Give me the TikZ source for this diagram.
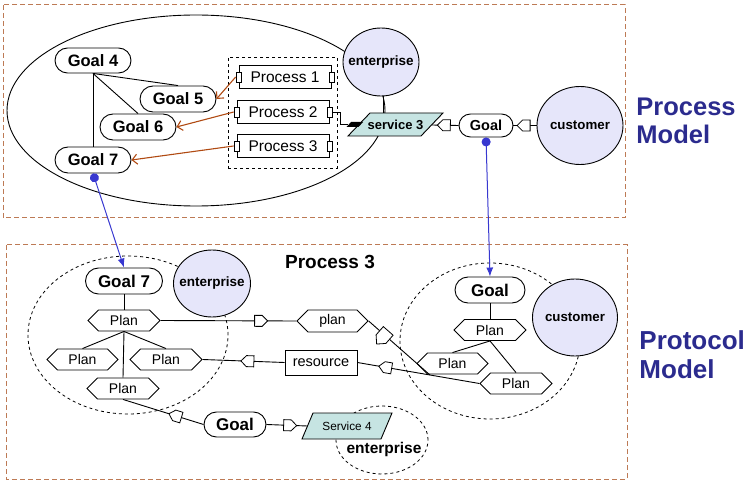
\documentclass[tikz,border=0pt]{standalone}
\usepackage{fontspec}
\setmainfont{Liberation Sans}
\usetikzlibrary{shapes.geometric,shapes.misc,shapes.symbols,arrows.meta}
\definecolor{boxbrown}{HTML}{BD7A55}
\definecolor{arrbrown}{HTML}{B04A12}
\definecolor{lav}{HTML}{E6E6FA}
\definecolor{svcfill}{HTML}{C6E4E2}
\definecolor{ttl}{HTML}{2B2B8E}
\definecolor{bconn}{HTML}{3838D0}
\newcommand\myfs[1]{\fontsize{#1}{#1}\selectfont}
\begin{document}
\begin{tikzpicture}[x=1pt,y=-1pt,line width=0.9pt,
  goalbox/.style={rounded rectangle,draw,fill=white,inner sep=0pt,font=\myfs{16.5}\bfseries},
  procbox/.style={rectangle,draw,fill=white,minimum width=92pt,minimum height=23pt,inner sep=0pt,font=\myfs{15.5}},
  portbox/.style={rectangle,draw,fill=white,minimum width=5pt,minimum height=10pt,inner sep=0pt,line width=0.8pt},
  planhex/.style={signal,signal to=west and east,draw,fill=white,minimum width=72pt,minimum height=21pt,inner sep=0pt,font=\myfs{14}},
  actor/.style={ellipse,draw,fill=lav,inner sep=0pt},
  dashring/.style={ellipse,draw,dash pattern=on 3pt off 3pt,line width=0.8pt,inner sep=0pt},
  mk/.style={signal,draw,fill=white,minimum width=13pt,minimum height=11pt,inner sep=0pt,sloped,line width=0.8pt},
  svcshape/.style={draw,fill=svcfill},
  region/.style={draw=boxbrown,dash pattern=on 5pt off 3pt,line width=1pt},
  brownarr/.style={draw=arrbrown,line width=1.1pt,-{Straight Barb[length=5pt,width=10pt]}},
  blueconn/.style={draw=bconn,line width=1pt,{Circle[length=9pt]}-{Latex[length=9pt,width=7pt]}}
]
\useasboundingbox (0,0) rectangle (750,481);

% regions
\draw[region] (3,5) rectangle (625,218);
\draw[region] (6,245) rectangle (627,479);

% ===== Process model =====
\node[ellipse,draw,minimum width=378pt,minimum height=191pt,inner sep=0pt] (ell) at (196,110.5) {};
\node[actor,minimum width=76pt,minimum height=68pt,label={[font=\myfs{13.5}\bfseries]center:enterprise}] (ent1) at (381,62) {};
\node[actor,minimum width=86pt,minimum height=78pt,label={[font=\myfs{13.3}\bfseries]center:customer}] (cust1) at (580,125.5) {};

\node[goalbox,minimum width=76pt,minimum height=25pt] (g4) at (93,60.5) {Goal 4};
\node[goalbox,minimum width=76pt,minimum height=26pt] (g5) at (178,99) {Goal 5};
\node[goalbox,minimum width=76pt,minimum height=26pt] (g6) at (138,127) {Goal 6};
\node[goalbox,minimum width=76pt,minimum height=26pt] (g7) at (93,160) {Goal 7};

\node[rectangle,draw,dash pattern=on 3pt off 3pt,line width=0.8pt,minimum width=109pt,minimum height=111pt,inner sep=0pt] (pbox) at (282.5,112.5) {};
\node[procbox] (p1) at (285,77) {Process 1};
\node[procbox] (p2) at (283,112) {Process 2};
\node[procbox] (p3) at (283,146) {Process 3};
\node[portbox] (p1l) at (p1.west) {};
\node[portbox] (p1r) at (p1.east) {};
\node[portbox] (p2l) at (p2.west) {};
\node[portbox] (p2r) at (p2.east) {};
\node[portbox] (p3l) at (p3.west) {};
\node[portbox] (p3r) at (p3.east) {};

% service 3 parallelogram
\draw[svcshape] (348,136) -- (370,113) -- (443,113) -- (421,136) -- cycle;
\node[font=\myfs{13}\bfseries,inner sep=0pt] (s3) at (395.5,124.5) {service 3};
\coordinate (s3e) at (432,125);
\coordinate (s3n) at (383,113);
\node[goalbox,font=\myfs{14.5}\bfseries,minimum width=54pt,minimum height=23pt] (gt) at (486,125.5) {Goal};

\draw (g4.south) -- (g7.north);
\draw (g4.south) -- (g5.north);
\draw (g4.south) -- (g6.north);
\draw[brownarr] (p1l.west) -- (g5.east);
\draw[brownarr] (p2l.west) -- (g6.east);
\draw[brownarr] (p3l.west) -- (g7.east);

\coordinate (bp) at (348,124.5);
\draw (p2r.east) -- ++(8,0) |- (bp);
\fill (346.5,127) -- (351,122) -- (363,122) -- (358.5,127) -- cycle;
\draw (ent1.south -| s3n) -- (s3n);
\draw (s3e) -- node[mk,signal to=west,pos=0.55] (mk1) {} (gt.west);
\draw (gt.east) -- node[mk,signal to=west,pos=0.56] (mk2) {} (cust1.west);

\node[anchor=west,align=left,inner sep=0pt,text=ttl,font=\fontsize{25.5}{28}\selectfont\bfseries] (pmodel) at (636,121) {Process\\Model};

% ===== Protocol model =====
\node[font=\myfs{19}\bfseries] (t3) at (330,262) {Process 3};

\node[dashring,minimum width=200pt,minimum height=158pt] (bl) at (128,335) {};
\node[dashring,minimum width=180pt,minimum height=156pt] (br) at (490,341) {};
\node[dashring,minimum width=92pt,minimum height=68pt] (ent3) at (382,440) {};

\node[actor,minimum width=77pt,minimum height=67pt,label={[font=\myfs{13.5}\bfseries]center:enterprise}] (ent2) at (212,283.5) {};
\node[actor,minimum width=85pt,minimum height=77pt,label={[font=\myfs{13.3}\bfseries]center:customer}] (cust2) at (575,317.5) {};

\node[goalbox,font=\myfs{17}\bfseries,minimum width=77pt,minimum height=26pt] (g7b) at (124,281) {Goal 7};
\node[planhex] (pa) at (124,320.5) {Plan};
\node[planhex,minimum width=71pt] (pl) at (82.5,359.5) {Plan};
\node[planhex] (pm) at (166,359.5) {Plan};
\node[planhex] (pb) at (123,388.5) {Plan};
\node[planhex,minimum width=71pt,minimum height=22pt] (plan) at (332.5,321) {plan};
\node[rectangle,draw,fill=white,minimum width=72pt,minimum height=25pt,inner sep=0pt,font=\myfs{14.5}] (res) at (321,362.5) {resource};
\node[goalbox,font=\myfs{17}\bfseries,minimum width=62pt,minimum height=25pt] (gb) at (235,424.5) {Goal};

% service 4 parallelogram
\draw[svcshape] (302,439) -- (313,413) -- (392,413) -- (381,439) -- cycle;
\node[font=\myfs{11.8},inner sep=0pt] (s4) at (347,426) {Service 4};
\coordinate (s4w) at (307.5,426);
\node[font=\myfs{15.5}\bfseries] (ent3t) at (384,449) {enterprise};

\node[goalbox,font=\myfs{17}\bfseries,minimum width=70pt,minimum height=26pt] (gr) at (490,290) {Goal};
\node[planhex] (pr) at (490,330) {Plan};
\node[planhex,minimum width=71pt] (pr2) at (452.5,363.5) {Plan};
\node[planhex] (pr3) at (516,383.5) {Plan};

\draw (g7b.south) -- (pa.north);
\draw (pa.south) -- (pl.north);
\draw (pa.south) -- (pm.north);
\draw (pa.south) -- (pb.north);
\draw (gr.south) -- (pr.north);
\draw (pr.south) -- (pr2.north);
\draw (pr.south) -- (pr3.north);

\coordinate (pmend) at (430,375);
\draw (pa.east) -- node[mk,signal to=east,pos=0.72] (mk3) {} (plan.west);
\draw (plan.east) -- node[mk,signal to=south,pos=0.26] (mk4) {} (pmend);
\draw (pm.east) -- node[mk,signal to=west,pos=0.58] (mk5) {} (res.west);
\draw (res.east) -- node[mk,signal to=west,pos=0.25] (mk6) {} (pr3.west);
\draw (pb.south) -- node[mk,signal to=west,pos=0.68] (mk7) {} (gb.west);
\draw (gb.east) -- node[mk,signal to=east,pos=0.51] (mk8) {} (s4w);

\node[anchor=west,align=left,inner sep=0pt,text=ttl,font=\fontsize{26}{29}\selectfont\bfseries] (prmodel) at (639,355) {Protocol\\Model};

% blue links
\draw[blueconn] (g7.south) -- (g7b.north);
\draw[blueconn] (gt.south) -- (gr.north);
\end{tikzpicture}
\end{document}
